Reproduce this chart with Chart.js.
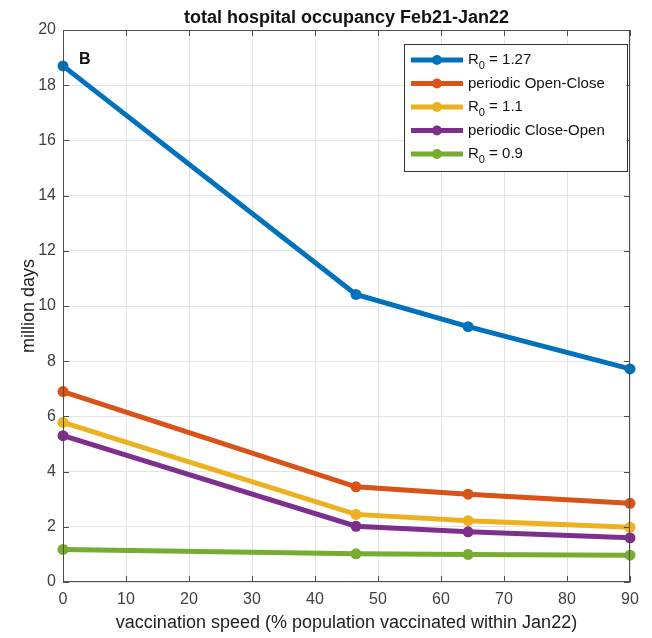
<!DOCTYPE html>
<html>
<head>
<meta charset="utf-8">
<script src="https://cdn.jsdelivr.net/npm/chart.js@4/dist/chart.umd.min.js"></script>
<style>
  html, body { margin: 0; padding: 0; background: #fff; }
  #wrap { width: 652px; height: 638px; }
</style>
</head>
<body>
<div id="wrap"><canvas id="chart" width="652" height="638"></canvas></div>
<script>
// Valeurs
const vitesse = [0, 46.5, 64.3, 90];
const r127 = [18.7, 10.42, 9.25, 7.72];
const openClose = [6.9, 3.45, 3.18, 2.85];
const r11 = [5.78, 2.45, 2.22, 1.98];
const closeOpen = [5.3, 2.02, 1.82, 1.6];
const r09 = [1.18, 1.02, 1.0, 0.97];

const labels = ["R0 = 1.27", "periodic Open-Close", "R0 = 1.1", "periodic Close-Open", "R0 = 0.9"];
const series = [r127, openClose, r11, closeOpen, r09];
const couleurs = ["#0072BD", "#D95319", "#EDB120", "#7E2F8E", "#77AC30"];

const police = "'Liberation Sans', Arial, sans-serif";

const datasets = series.map((s, i) => ({
    label: labels[i],
    data: s.map((v, j) => ({ x: vitesse[j], y: v })),
    borderColor: couleurs[i],
    backgroundColor: couleurs[i],
    borderWidth: 5,
    pointRadius: 5.5,
    pointBorderWidth: 0,
    pointHoverRadius: 5.5,
    tension: 0,
    clip: false,
}));

// Texte avec indice "0" pour R0
function drawLabel(c, txt, x, y) {
    if (txt.startsWith("R0")) {
        c.fillText("R", x, y);
        let w = c.measureText("R").width;
        c.save();
        c.font = "11px " + police;
        c.fillText("0", x + w, y + 6);
        let w0 = c.measureText("0").width;
        c.restore();
        c.fillText(txt.slice(2), x + w + w0, y);
    } else {
        c.fillText(txt, x, y);
    }
}

// Cadre, graduations, titre, légende
const decor = {
    id: "decor",
    afterDraw(chart) {
        const c = chart.ctx;
        const a = chart.chartArea;
        const sx = chart.scales.x, sy = chart.scales.y;
        c.save();
        c.strokeStyle = "#4d4d4d";
        c.lineWidth = 1;
        c.strokeRect(a.left + 0.5, a.top + 0.5, a.right - a.left - 1, a.bottom - a.top - 1);
        c.beginPath();
        sx.ticks.forEach(t => {
            const px = Math.round(sx.getPixelForValue(t.value)) + 0.5;
            c.moveTo(px, a.bottom); c.lineTo(px, a.bottom - 6);
            c.moveTo(px, a.top); c.lineTo(px, a.top + 6);
        });
        sy.ticks.forEach(t => {
            const py = Math.round(sy.getPixelForValue(t.value)) + 0.5;
            c.moveTo(a.left, py); c.lineTo(a.left + 6, py);
            c.moveTo(a.right, py); c.lineTo(a.right - 6, py);
        });
        c.stroke();

        // titre
        c.fillStyle = "#111";
        c.font = "bold 18px " + police;
        c.textAlign = "center";
        c.textBaseline = "alphabetic";
        c.fillText("total hospital occupancy Feb21-Jan22", (a.left + a.right) / 2, 23);

        // lettre du panneau
        c.textAlign = "left";
        c.font = "bold 16px " + police;
        c.fillText("B", 79, 64);

        // légende
        const lx = 404, ly = 44, lw = 223, lh = 127;
        c.fillStyle = "#fff";
        c.fillRect(lx, ly, lw, lh);
        c.strokeStyle = "#333";
        c.strokeRect(lx + 0.5, ly + 0.5, lw, lh);
        c.font = "15px " + police;
        c.textBaseline = "middle";
        datasets.forEach((d, i) => {
            const y = 60 + i * 23.5;
            c.strokeStyle = d.borderColor;
            c.lineWidth = 5;
            c.beginPath(); c.moveTo(411, y); c.lineTo(463, y); c.stroke();
            c.fillStyle = d.borderColor;
            c.beginPath(); c.arc(437, y, 5, 0, Math.PI * 2); c.fill();
            c.fillStyle = "#111";
            drawLabel(c, d.label, 468, y);
        });
        c.restore();
    }
};

const config = {
    type: "line",
    data: { datasets: datasets },
    options: {
        responsive: false,
        animation: false,
        layout: { padding: { top: 30, right: 22, left: 14, bottom: 0 } },
        plugins: { legend: { display: false }, tooltip: { enabled: false } },
        scales: {
            x: {
                type: "linear", min: 0, max: 90,
                ticks: { stepSize: 10, color: "#404040", font: { size: 16, family: police }, padding: 8 },
                grid: { color: "#e3e3e3", drawTicks: false },
                border: { display: false },
                title: { display: true, text: "vaccination speed (% population vaccinated within Jan22)",
                         color: "#222", font: { size: 18, family: police }, padding: { top: 0 } },
                afterFit: s => { s.height = 56; }
            },
            y: {
                min: 0, max: 20,
                ticks: { stepSize: 2, color: "#404040", font: { size: 16, family: police }, padding: 7 },
                grid: { color: "#e3e3e3", drawTicks: false },
                border: { display: false },
                title: { display: true, text: "million days", color: "#222",
                         font: { size: 18, family: police }, padding: { bottom: 0 } },
                afterFit: s => { s.width = 49; }
            }
        }
    },
    plugins: [decor]
};

const chart = new Chart(document.getElementById("chart"), config);
</script>
</body>
</html>
